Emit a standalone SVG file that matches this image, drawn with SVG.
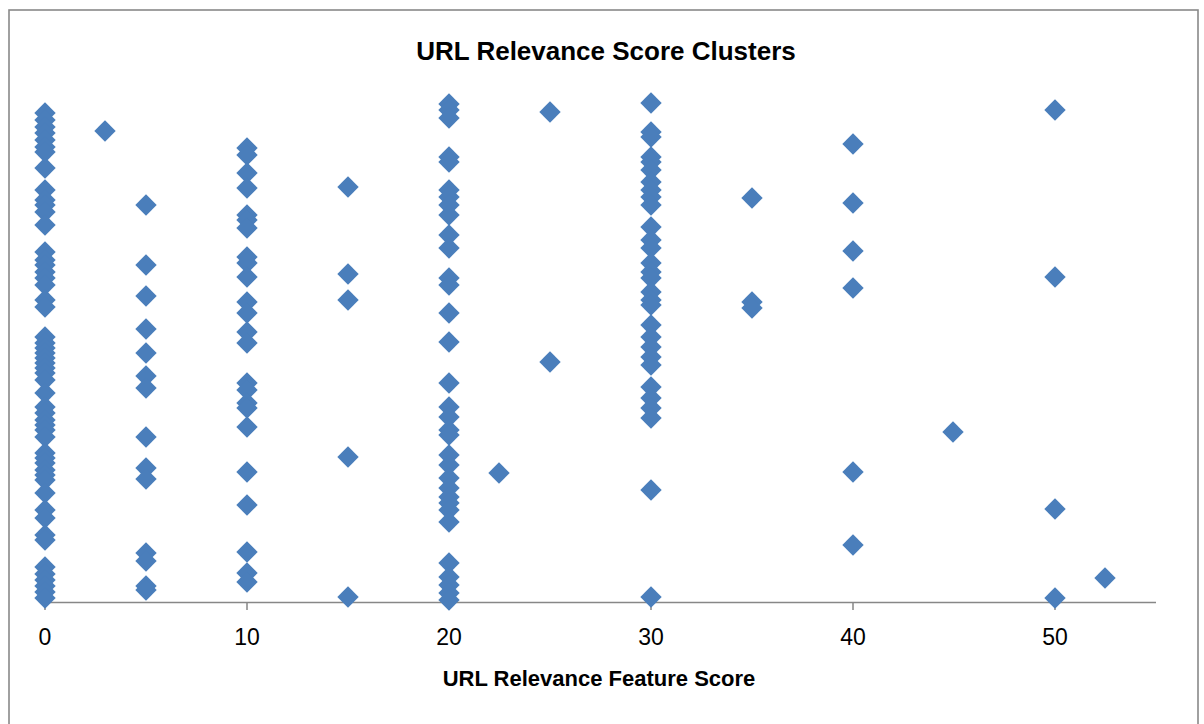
<svg xmlns="http://www.w3.org/2000/svg" width="1204" height="724" viewBox="0 0 1204 724">
<style>
.frame{fill:#ffffff;stroke:#898989;stroke-width:1.6}
.axis{stroke:#878787;stroke-width:1.5;fill:none}
.title{font-family:"Liberation Sans",Arial,sans-serif;font-weight:bold;fill:#000;text-anchor:middle}
.tick{font-family:"Liberation Sans",Arial,sans-serif;font-size:23px;fill:#000;text-anchor:middle}
.pt{fill:#4A7EBB}
</style>
<defs>
<path id="d" class="pt" d="M0,-10.7 L10.7,0 L0,10.7 L-10.7,0 Z"/>
</defs>
<rect class="frame" x="9" y="10" width="1189" height="730"/>
<text class="title" x="606" y="60" font-size="26">URL Relevance Score Clusters</text>
<g id="axis">
<line class="axis" x1="45" y1="602.5" x2="1156" y2="602.5"/>
<path class="axis" d="M45,602.5V610 M247,602.5V610 M449,602.5V610 M651,602.5V610 M853,602.5V610 M1055,602.5V610"/>
<text class="tick" x="45" y="645">0</text>
<text class="tick" x="247" y="645">10</text>
<text class="tick" x="449" y="645">20</text>
<text class="tick" x="651" y="645">30</text>
<text class="tick" x="853" y="645">40</text>
<text class="tick" x="1055" y="645">50</text>
</g>
<text class="title" x="599" y="686" font-size="22">URL Relevance Feature Score</text>
<g id="series">
<!-- x = 0 -->
<use href="#d" x="45" y="113"/><use href="#d" x="45" y="120"/><use href="#d" x="45" y="127"/><use href="#d" x="45" y="133"/>
<use href="#d" x="45" y="140"/><use href="#d" x="45" y="147"/><use href="#d" x="45" y="152"/><use href="#d" x="45" y="168"/>
<use href="#d" x="45" y="190"/><use href="#d" x="45" y="200"/><use href="#d" x="45" y="205"/><use href="#d" x="45" y="212"/>
<use href="#d" x="45" y="225"/><use href="#d" x="45" y="252"/><use href="#d" x="45" y="260"/><use href="#d" x="45" y="265"/>
<use href="#d" x="45" y="272"/><use href="#d" x="45" y="278"/><use href="#d" x="45" y="285"/><use href="#d" x="45" y="300"/>
<use href="#d" x="45" y="307"/><use href="#d" x="45" y="337"/><use href="#d" x="45" y="343"/><use href="#d" x="45" y="348"/>
<use href="#d" x="45" y="353"/><use href="#d" x="45" y="358"/><use href="#d" x="45" y="363"/><use href="#d" x="45" y="368"/>
<use href="#d" x="45" y="373"/><use href="#d" x="45" y="380"/><use href="#d" x="45" y="393"/><use href="#d" x="45" y="407"/>
<use href="#d" x="45" y="413"/><use href="#d" x="45" y="420"/><use href="#d" x="45" y="425"/><use href="#d" x="45" y="430"/>
<use href="#d" x="45" y="437"/><use href="#d" x="45" y="453"/><use href="#d" x="45" y="458"/><use href="#d" x="45" y="463"/>
<use href="#d" x="45" y="470"/><use href="#d" x="45" y="475"/><use href="#d" x="45" y="480"/><use href="#d" x="45" y="493"/>
<use href="#d" x="45" y="510"/><use href="#d" x="45" y="518"/><use href="#d" x="45" y="535"/><use href="#d" x="45" y="540"/>
<use href="#d" x="45" y="567"/><use href="#d" x="45" y="574"/><use href="#d" x="45" y="580"/><use href="#d" x="45" y="586"/>
<use href="#d" x="45" y="592"/><use href="#d" x="45" y="598"/>
<!-- x = 3 -->
<use href="#d" x="105" y="131"/>
<!-- x = 5 -->
<use href="#d" x="146" y="205"/><use href="#d" x="146" y="265"/><use href="#d" x="146" y="296"/><use href="#d" x="146" y="329"/>
<use href="#d" x="146" y="353"/><use href="#d" x="146" y="376"/><use href="#d" x="146" y="388"/><use href="#d" x="146" y="437"/>
<use href="#d" x="146" y="468"/><use href="#d" x="146" y="479"/><use href="#d" x="146" y="553"/><use href="#d" x="146" y="561"/>
<use href="#d" x="146" y="586"/><use href="#d" x="146" y="590"/>
<!-- x = 10 -->
<use href="#d" x="247" y="148"/><use href="#d" x="247" y="155"/><use href="#d" x="247" y="173"/><use href="#d" x="247" y="188"/>
<use href="#d" x="247" y="215"/><use href="#d" x="247" y="220"/><use href="#d" x="247" y="228"/><use href="#d" x="247" y="257"/>
<use href="#d" x="247" y="263"/><use href="#d" x="247" y="277"/><use href="#d" x="247" y="302"/><use href="#d" x="247" y="313"/>
<use href="#d" x="247" y="332"/><use href="#d" x="247" y="343"/><use href="#d" x="247" y="383"/><use href="#d" x="247" y="390"/>
<use href="#d" x="247" y="403"/><use href="#d" x="247" y="408"/><use href="#d" x="247" y="427"/><use href="#d" x="247" y="472"/>
<use href="#d" x="247" y="505"/><use href="#d" x="247" y="552"/><use href="#d" x="247" y="573"/><use href="#d" x="247" y="582"/>
<!-- x = 15 -->
<use href="#d" x="348" y="187"/><use href="#d" x="348" y="274"/><use href="#d" x="348" y="300"/><use href="#d" x="348" y="457"/>
<use href="#d" x="348" y="597"/>
<!-- x = 20 -->
<use href="#d" x="449" y="104"/><use href="#d" x="449" y="110"/><use href="#d" x="449" y="118"/><use href="#d" x="449" y="157"/>
<use href="#d" x="449" y="162"/><use href="#d" x="449" y="190"/><use href="#d" x="449" y="197"/><use href="#d" x="449" y="205"/>
<use href="#d" x="449" y="215"/><use href="#d" x="449" y="235"/><use href="#d" x="449" y="248"/><use href="#d" x="449" y="278"/>
<use href="#d" x="449" y="285"/><use href="#d" x="449" y="313"/><use href="#d" x="449" y="342"/><use href="#d" x="449" y="383"/>
<use href="#d" x="449" y="407"/><use href="#d" x="449" y="417"/><use href="#d" x="449" y="430"/><use href="#d" x="449" y="435"/>
<use href="#d" x="449" y="455"/><use href="#d" x="449" y="465"/><use href="#d" x="449" y="478"/><use href="#d" x="449" y="488"/>
<use href="#d" x="449" y="497"/><use href="#d" x="449" y="503"/><use href="#d" x="449" y="510"/><use href="#d" x="449" y="522"/>
<use href="#d" x="449" y="563"/><use href="#d" x="449" y="577"/><use href="#d" x="449" y="585"/><use href="#d" x="449" y="593"/>
<use href="#d" x="449" y="600"/>
<!-- x = 22.5 / 25 -->
<use href="#d" x="499" y="473"/>
<use href="#d" x="550" y="112"/><use href="#d" x="550" y="362"/>
<!-- x = 30 -->
<use href="#d" x="651" y="103"/><use href="#d" x="651" y="132"/><use href="#d" x="651" y="137"/><use href="#d" x="651" y="157"/>
<use href="#d" x="651" y="162"/><use href="#d" x="651" y="170"/><use href="#d" x="651" y="182"/><use href="#d" x="651" y="190"/>
<use href="#d" x="651" y="197"/><use href="#d" x="651" y="205"/><use href="#d" x="651" y="227"/><use href="#d" x="651" y="240"/>
<use href="#d" x="651" y="248"/><use href="#d" x="651" y="263"/><use href="#d" x="651" y="272"/><use href="#d" x="651" y="278"/>
<use href="#d" x="651" y="292"/><use href="#d" x="651" y="300"/><use href="#d" x="651" y="305"/><use href="#d" x="651" y="325"/>
<use href="#d" x="651" y="337"/><use href="#d" x="651" y="347"/><use href="#d" x="651" y="357"/><use href="#d" x="651" y="365"/>
<use href="#d" x="651" y="387"/><use href="#d" x="651" y="398"/><use href="#d" x="651" y="408"/><use href="#d" x="651" y="418"/>
<use href="#d" x="651" y="490"/><use href="#d" x="651" y="597"/>
<!-- x = 35 -->
<use href="#d" x="752" y="198"/><use href="#d" x="752" y="302"/><use href="#d" x="752" y="308"/>
<!-- x = 40 -->
<use href="#d" x="853" y="144"/><use href="#d" x="853" y="203"/><use href="#d" x="853" y="251"/><use href="#d" x="853" y="288"/>
<use href="#d" x="853" y="472"/><use href="#d" x="853" y="545"/>
<!-- x = 45 -->
<use href="#d" x="953" y="432"/>
<!-- x = 50 -->
<use href="#d" x="1055" y="110"/><use href="#d" x="1055" y="277"/><use href="#d" x="1055" y="509"/><use href="#d" x="1055" y="598"/>
<!-- x = 52.5 -->
<use href="#d" x="1105" y="578"/>
</g>
</svg>
